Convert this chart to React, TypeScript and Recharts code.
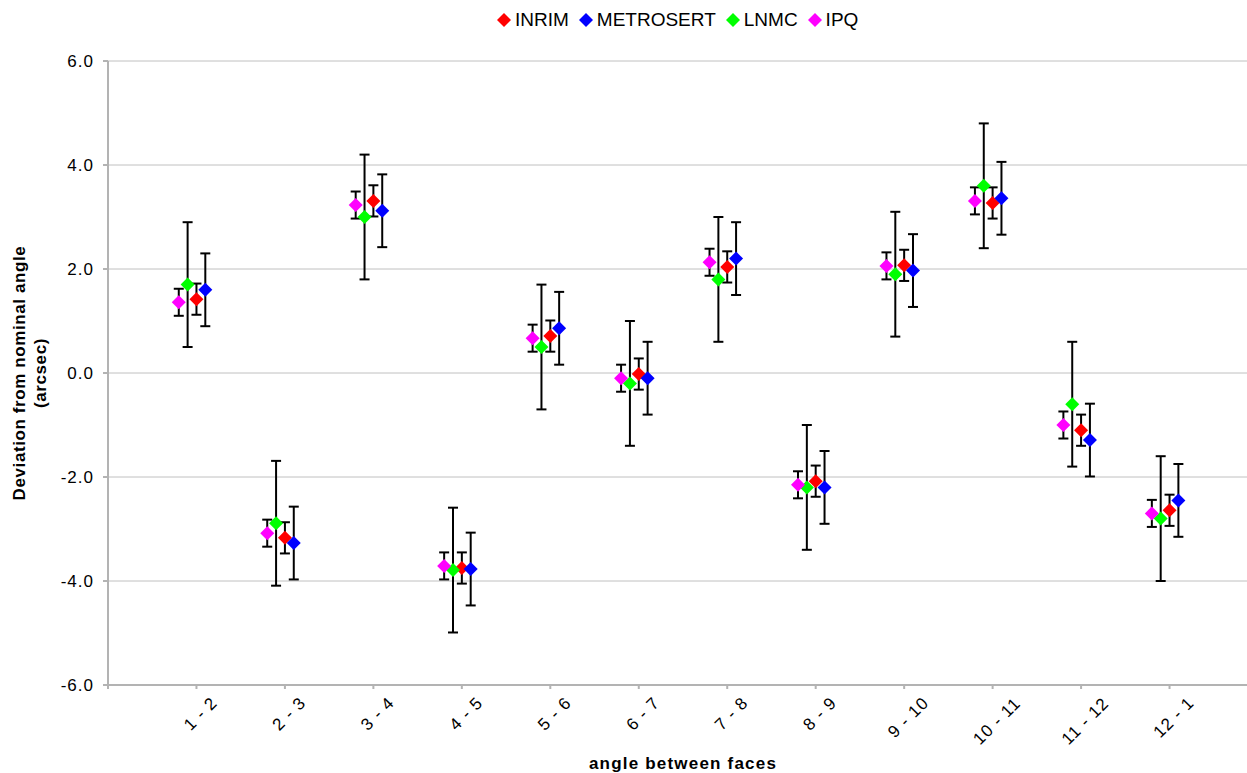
import { CartesianGrid, ErrorBar, Legend, Scatter, ScatterChart, XAxis, YAxis } from "recharts";

const pairLabels = ["1 - 2", "2 - 3", "3 - 4", "4 - 5", "5 - 6", "6 - 7", "7 - 8", "8 - 9", "9 - 10", "10 - 11", "11 - 12", "12 - 1"];

const inrim = [1.42, -3.17, 3.31, -3.75, 0.71, -0.02, 2.04, -2.08, 2.07, 3.27, -1.1, -2.64];
const metrosert = [1.6, -3.27, 3.12, -3.77, 0.86, -0.1, 2.2, -2.2, 1.97, 3.36, -1.29, -2.45];
const lnmc = [1.7, -2.89, 3.0, -3.79, 0.5, -0.2, 1.8, -2.2, 1.9, 3.6, -0.6, -2.8];
const ipq = [1.36, -3.08, 3.23, -3.71, 0.67, -0.1, 2.13, -2.15, 2.06, 3.31, -1.0, -2.7];

// expanded uncertainty of each lab (arcsec)
const inrimU = 0.3;
const metrosertU = 0.7;
const lnmcU = 1.2;
const ipqU = 0.26;

const yTicks = [-6, -4, -2, 0, 2, 4, 6];
const xTicks = [0, 1, 2, 3, 4, 5, 6, 7, 8, 9, 10, 11, 12];

const series = [
  { name: "INRIM", values: inrim, u: inrimU, shift: 0, color: "#ff0000" },
  { name: "METROSERT", values: metrosert, u: metrosertU, shift: 0.1, color: "#0000ff" },
  { name: "LNMC", values: lnmc, u: lnmcU, shift: -0.1, color: "#00ff00" },
  { name: "IPQ", values: ipq, u: ipqU, shift: -0.2, color: "#ff00ff" },
];

const font = "'Liberation Sans', Arial, sans-serif";

function textWidth(s: string, size: number, spacing: number) {
  let w = 0;
  for (const ch of s) {
    if (ch === " ") w += 0.278 * size;
    else if (ch === "-") w += 0.333 * size;
    else w += 0.556 * size;
    w += spacing;
  }
  return w;
}

function toPoints(values: number[], u: number, shift: number) {
  return values.map((v, i) => ({ x: i + 1 + shift, y: v, err: u }));
}

function Diamond({ cx, cy, fill }: any) {
  const r = 7;
  return <polygon points={`${cx},${cy - r} ${cx + r},${cy} ${cx},${cy + r} ${cx - r},${cy}`} fill={fill} />;
}

function XTick({ x, y, payload }: any) {
  const label = pairLabels[payload.value - 1];
  if (!label) return null;
  const w = textWidth(label, 17, 1);
  const cx = x + 4;
  const cy = y + 4 + (w + 13) * 0.354;
  return (
    <text
      x={cx}
      y={cy}
      dy="0.35em"
      textAnchor="middle"
      fontSize={17}
      letterSpacing={1}
      fill="#000"
      fontFamily={font}
      transform={`rotate(-45 ${cx} ${cy})`}
    >
      {label}
    </text>
  );
}

function YTitle({ viewBox }: any) {
  const cy = viewBox.y + viewBox.height / 2;
  return (
    <g fontFamily={font} fontWeight="bold" fontSize={17} letterSpacing={0.6} fill="#000">
      <text x={19} y={cy} dy="0.35em" textAnchor="middle" transform={`rotate(-90 19 ${cy})`}>
        Deviation from nominal angle
      </text>
      <text x={40} y={cy} dy="0.35em" textAnchor="middle" transform={`rotate(-90 40 ${cy})`}>
        (arcsec)
      </text>
    </g>
  );
}

function XTitle({ viewBox }: any) {
  return (
    <text
      x={viewBox.x + viewBox.width / 2}
      y={viewBox.y + viewBox.height - 4}
      textAnchor="middle"
      fontFamily={font}
      fontWeight="bold"
      fontSize={17}
      letterSpacing={1.2}
      fill="#000"
    >
      angle between faces
    </text>
  );
}

function LegendBox() {
  return (
    <div style={{ display: "flex", alignItems: "center", fontFamily: font, fontSize: 19, color: "#000" }}>
      {series.map((s) => (
        <div key={s.name} style={{ display: "flex", alignItems: "center", marginRight: 10 }}>
          <svg width={14} height={14} style={{ marginRight: 4 }}>
            <polygon points="7,0 14,7 7,14 0,7" fill={s.color} />
          </svg>
          <span>{s.name}</span>
        </div>
      ))}
    </div>
  );
}

export default function App() {
  return (
    <div
      style={{
        position: "fixed",
        left: 0,
        top: 0,
        width: 1247,
        height: 773,
        overflow: "hidden",
        background: "#fff",
      }}
    >
      <ScatterChart width={1258} height={773} margin={{ top: 61, right: 0, bottom: 0, left: 0 }}>
        <CartesianGrid horizontal vertical={false} stroke="#c0c0c0" />
        <XAxis
          type="number"
          dataKey="x"
          domain={[0, 13]}
          ticks={xTicks}
          interval={0}
          height={88}
          tick={<XTick />}
          tickSize={4}
          stroke="#b3b3b3"
          strokeWidth={2}
          label={{ content: <XTitle /> }}
        />
        <YAxis
          type="number"
          dataKey="y"
          domain={[-6, 6]}
          ticks={yTicks}
          interval={0}
          width={108}
          tickSize={5}
          tickMargin={9}
          stroke="#b3b3b3"
          strokeWidth={2}
          tick={{ fill: "#000", fontSize: 17, fontFamily: font, letterSpacing: 1 }}
          tickFormatter={(v: number) => v.toFixed(1)}
          label={{ content: <YTitle /> }}
        />
        <Legend
          verticalAlign="middle"
          layout="horizontal"
          wrapperStyle={{ top: 9, left: 497, width: 420, height: 24 }}
          content={<LegendBox />}
        />
        {series.map((s) => (
          <Scatter
            key={s.name}
            name={s.name}
            data={toPoints(s.values, s.u, s.shift)}
            fill={s.color}
            shape={(p: any) => <Diamond cx={p.cx} cy={p.cy} fill={s.color} />}
            isAnimationActive={false}
          >
            <ErrorBar dataKey="err" direction="y" width={5} stroke="#000" strokeWidth={2} isAnimationActive={false} />
          </Scatter>
        ))}
      </ScatterChart>
    </div>
  );
}
